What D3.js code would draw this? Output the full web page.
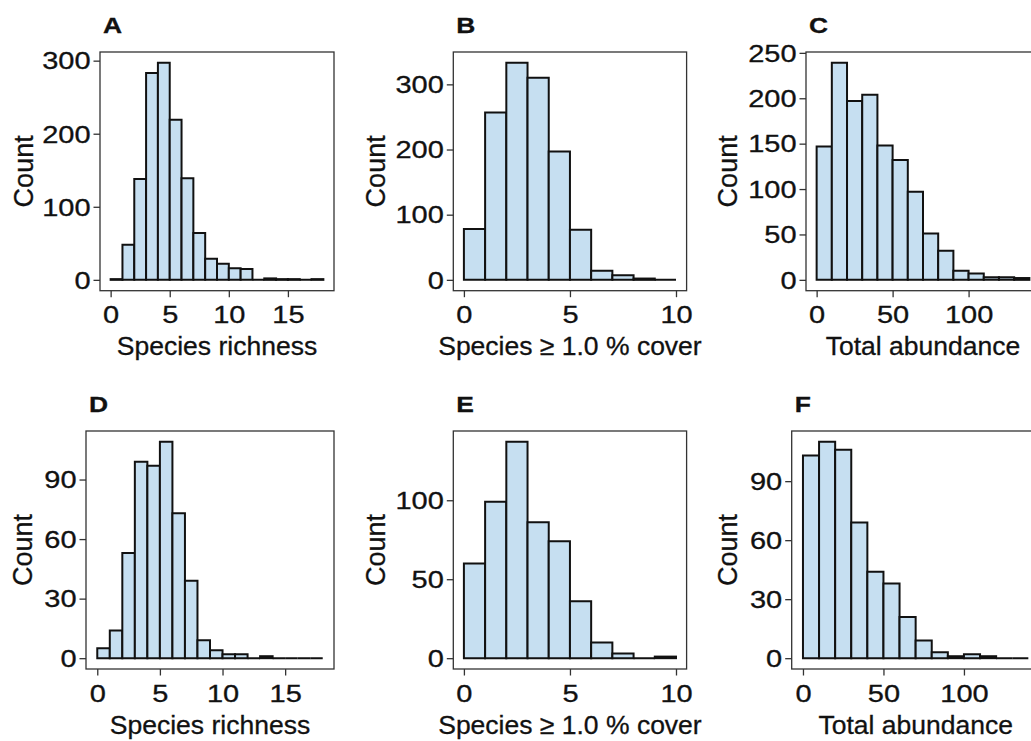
<!DOCTYPE html>
<html>
<head>
<meta charset="utf-8">
<script src="https://cdn.jsdelivr.net/npm/d3@7"></script>
<style>
  html, body { margin: 0; padding: 0; background: #fff; }
  svg { display: block; }
  text { font-family: "Liberation Sans", Arial, sans-serif; fill: #111; stroke: #111; stroke-width: 0.3px; }
</style>
</head>
<body>
<svg id="chart" width="1031" height="741"></svg>
<script>
// ---------- data ----------
const richnessEdges = [0,1,2,3,4,5,6,7,8,9,10,11,12,13,14,15,16,17,18];
const coverEdges = [0,1,2,3,4,5,6,7,8,9,10];
const abundanceEdges = [0,10,20,30,40,50,60,70,80,90,100,110,120,130,140];

const countsA = [1,48,138,283,297,219,139,64,29,22,16,15,0,2,1,1,0,1];
const countsB = [78,257,333,310,197,77,14,7,2,0];
const countsC = [147,239,197,204,148,132,97,51,32,10,7,3,3,2];
const countsD = [5,14,53,99,97,109,73,39,9,4,2,2,0,1,0,0,0,0];
const countsE = [60,99,137,86,74,36,10,3,0,1];
const countsF = [103,110,106,69,44,38,21,9,3,1,2,1,0,0];

const panelLetters = ["A","B","C","D","E","F"];
const xTitles = ["Species richness","Species \u2265 1.0 % cover","Total abundance",
                 "Species richness","Species \u2265 1.0 % cover","Total abundance"];
const yTitle = "Count";

const xTicksRichness = [0,5,10,15];
const xTicksCover = [0,5,10];
const xTicksAbundance = [0,50,100];
const yTicksA = [0,100,200,300];
const yTicksB = [0,100,200,300];
const yTicksC = [0,50,100,150,200,250];
const yTicksD = [0,30,60,90];
const yTicksE = [0,50,100];
const yTicksF = [0,30,60,90];

// ---------- layout ----------
const boxes = [
  {x0:100,   x1:334,    y0:52,  y1:290.7, ytx:33},
  {x0:453.3, x1:686.6,  y0:52,  y1:290.7, ytx:385},
  {x0:806,   x1:1040,   y0:52,  y1:290.7, ytx:736.5},
  {x0:86,    x1:334,    y0:431, y1:669,   ytx:32},
  {x0:453.3, x1:686.6,  y0:431, y1:669,   ytx:385},
  {x0:791.7, x1:1039.6, y0:431, y1:669,   ytx:736.5}
];

const panels = [
  {edges:richnessEdges, counts:countsA, xt:xTicksRichness, yt:yTicksA},
  {edges:coverEdges,    counts:countsB, xt:xTicksCover,    yt:yTicksB},
  {edges:abundanceEdges,counts:countsC, xt:xTicksAbundance,yt:yTicksC},
  {edges:richnessEdges, counts:countsD, xt:xTicksRichness, yt:yTicksD},
  {edges:coverEdges,    counts:countsE, xt:xTicksCover,    yt:yTicksE},
  {edges:abundanceEdges,counts:countsF, xt:xTicksAbundance,yt:yTicksF}
];

const FILL = "#c6dff1";
const TICKFS = 23, TICKSTRETCH = 1.26;
const svg = d3.select("#chart");

function stretch(sel, k) {
  sel.each(function() {
    const w = this.getComputedTextLength();
    d3.select(this).attr("textLength", w * k).attr("lengthAdjust", "spacingAndGlyphs");
  });
}

panels.forEach((p, i) => {
  const b = boxes[i];
  const g = svg.append("g");
  const xmin = p.edges[0], xmax = p.edges[p.edges.length - 1];
  const xpad = (xmax - xmin) * 0.05;
  const ymax = d3.max(p.counts);
  const ypad = ymax * 0.05;
  const x = d3.scaleLinear().domain([xmin - xpad, xmax + xpad]).range([b.x0, b.x1]);
  const y = d3.scaleLinear().domain([-ypad, ymax + ypad]).range([b.y1, b.y0]);

  // bars (paths so that zero-count bins still draw as a line)
  const bins = p.counts.map((c, j) => ({x0: p.edges[j], x1: p.edges[j + 1], c}));
  g.selectAll("path.bar").data(bins).join("path")
    .attr("class", "bar")
    .attr("d", d => {
      const l = x(d.x0), r = x(d.x1), t = y(d.c), bt = y(0);
      return `M${l},${bt}V${t}H${r}V${bt}Z`;
    })
    .attr("fill", FILL)
    .attr("stroke", "#111")
    .attr("stroke-width", 2)
    .attr("stroke-linejoin", "miter");

  // panel border
  g.append("rect")
    .attr("x", b.x0).attr("y", b.y0)
    .attr("width", b.x1 - b.x0).attr("height", b.y1 - b.y0)
    .attr("fill", "none").attr("stroke", "#333").attr("stroke-width", 1.3);

  // axes
  const xa = g.append("g").attr("transform", `translate(0,${b.y1})`)
    .call(d3.axisBottom(x).tickValues(p.xt).tickSize(6.5).tickPadding(4).tickFormat(d3.format("d")));
  const ya = g.append("g").attr("transform", `translate(${b.x0},0)`)
    .call(d3.axisLeft(y).tickValues(p.yt).tickSize(6.5).tickPadding(3).tickFormat(d3.format("d")));
  [xa, ya].forEach(a => {
    a.select(".domain").remove();
    a.selectAll(".tick line").attr("stroke", "#333").attr("stroke-width", 1.3);
    a.selectAll(".tick text").attr("font-size", TICKFS)
      .attr("font-family", "'Liberation Sans', Arial, sans-serif").attr("fill", "#111");
  });
  xa.selectAll(".tick text").attr("dy", null).attr("y", 32.5);
  ya.selectAll(".tick text").attr("dy", "0.36em");
  stretch(xa.selectAll(".tick text"), TICKSTRETCH);
  stretch(ya.selectAll(".tick text"), TICKSTRETCH);

  // x title
  g.append("text")
    .attr("x", (b.x0 + b.x1) / 2)
    .attr("y", b.y1 + 64.5)
    .attr("text-anchor", "middle")
    .attr("font-size", 26.5)
    .text(xTitles[i]);

  // y title
  g.append("text")
    .attr("transform", `translate(${b.ytx},${(b.y0 + b.y1) / 2}) rotate(-90)`)
    .attr("text-anchor", "middle")
    .attr("font-size", 27)
    .text(yTitle);

  // panel letter
  const lt = g.append("text")
    .attr("x", b.x0 + 3)
    .attr("y", b.y0 - 19.5)
    .attr("font-size", 22)
    .attr("font-weight", "bold")
    .text(panelLetters[i]);
  stretch(lt, 1.2);
});
</script>
</body>
</html>
